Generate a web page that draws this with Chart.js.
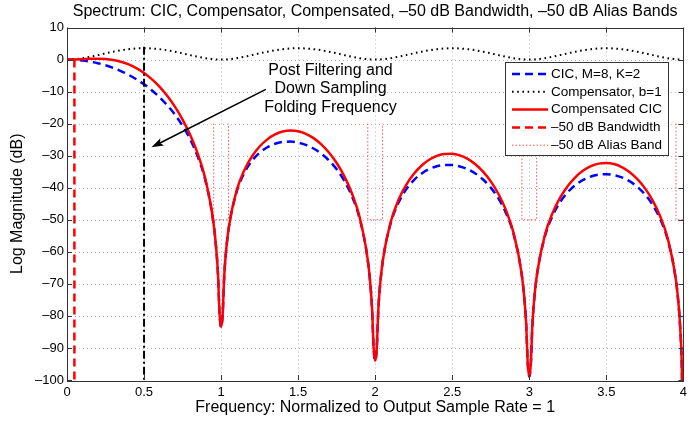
<!DOCTYPE html>
<html><head><meta charset="utf-8">
<script src="https://cdn.jsdelivr.net/npm/chart.js@4.4.1/dist/chart.umd.min.js"></script>
<style>html,body{margin:0;padding:0;background:#fff;overflow:hidden}canvas{display:block}</style>
</head><body>
<canvas id="c" width="692" height="424"></canvas>
<script>
// ---------- data ----------
const freq = [0,0.05,0.1,0.15,0.2,0.25,0.3,0.35,0.4,0.45,0.5,0.55,0.6,0.65,0.7,0.75,0.8,0.85,0.9,0.95,
  0.97,0.98,0.99,1,1.01,1.02,1.03,
  1.05,1.1,1.15,1.2,1.25,1.3,1.35,1.4,1.45,1.5,1.55,1.6,1.65,1.7,1.75,1.8,1.85,1.9,1.95,
  1.97,1.98,1.99,2,2.01,2.02,2.03,
  2.05,2.1,2.15,2.2,2.25,2.3,2.35,2.4,2.45,2.5,2.55,2.6,2.65,2.7,2.75,2.8,2.85,2.9,2.95,
  2.97,2.98,2.99,3,3.01,3.02,3.03,
  3.05,3.1,3.15,3.2,3.25,3.3,3.35,3.4,3.45,3.5,3.55,3.6,3.65,3.7,3.75,3.8,3.85,3.9,3.95,
  3.97,3.98,3.99,4];
const cicDb = [0,-0.07,-0.28,-0.64,-1.14,-1.80,-2.61,-3.60,-4.77,-6.14,-7.73,-9.58,-11.72,-14.22,-17.15,-20.66,-24.95,-30.46,-38.09,-50.82,
  -59.99,-67.18,-79.39,-83.5,-79.72,-67.84,-60.98,
  -52.47,-41.40,-35.44,-31.64,-29.08,-27.37,-26.28,-25.72,-25.61,-25.91,-26.63,-27.76,-29.36,-31.48,-34.24,-37.86,-42.74,-49.79,-61.98,
  -70.95,-78.05,-90.15,-94,-90.29,-78.32,-71.36,
  -62.66,-51.16,-44.79,-40.60,-37.67,-35.61,-34.19,-33.31,-32.90,-32.92,-33.36,-34.23,-35.56,-37.44,-39.96,-43.35,-48.01,-54.85,-66.83,
  -75.72,-82.77,-94.84,-99,-94.89,-82.89,-75.89,
  -67.11,-55.42,-48.86,-44.48,-41.38,-39.14,-37.56,-36.51,-35.93,-35.79,-36.07,-36.78,-37.96,-39.69,-42.06,-45.30,-49.81,-56.51,-68.35,
  -77.18,-84.21,-96.24,-130];
const compensatorDb = [0,0.11,0.41,0.85,1.38,1.94,2.46,2.90,3.24,3.45,3.52,3.45,3.24,2.90,2.46,1.94,1.38,0.85,0.41,0.11,
  0.04,0.02,0,0,0,0.02,0.04,
  0.11,0.41,0.85,1.38,1.94,2.46,2.90,3.24,3.45,3.52,3.45,3.24,2.90,2.46,1.94,1.38,0.85,0.41,0.11,
  0.04,0.02,0,0,0,0.02,0.04,
  0.11,0.41,0.85,1.38,1.94,2.46,2.90,3.24,3.45,3.52,3.45,3.24,2.90,2.46,1.94,1.38,0.85,0.41,0.11,
  0.04,0.02,0,0,0,0.02,0.04,
  0.11,0.41,0.85,1.38,1.94,2.46,2.90,3.24,3.45,3.52,3.45,3.24,2.90,2.46,1.94,1.38,0.85,0.41,0.11,
  0.04,0.02,0,0];
const compensatedDb = [0,0.04,0.12,0.21,0.24,0.14,-0.15,-0.70,-1.53,-2.69,-4.21,-6.13,-8.48,-11.32,-14.69,-18.72,-23.57,-29.61,-37.69,-50.71,
  -59.95,-67.17,-79.38,-83.5,-79.71,-67.83,-60.94,
  -52.36,-40.99,-34.59,-30.25,-27.14,-24.91,-23.38,-22.48,-22.16,-22.39,-23.18,-24.52,-26.45,-29.02,-32.30,-36.47,-41.88,-49.39,-61.88,
  -70.91,-78.03,-90.15,-94,-90.28,-78.30,-71.32,
  -62.56,-50.76,-43.93,-39.21,-35.73,-33.15,-31.29,-30.07,-29.45,-29.40,-29.91,-30.99,-32.66,-34.98,-38.02,-41.97,-47.15,-54.45,-66.72,
  -75.68,-82.76,-94.83,-99,-94.89,-82.87,-75.85,
  -67.01,-55.01,-48.00,-43.10,-39.44,-36.68,-34.65,-33.27,-32.48,-32.27,-32.62,-33.54,-35.06,-37.23,-40.12,-43.92,-48.96,-56.11,-68.24,
  -77.14,-84.19,-96.24,-130];
const bandwidthFreq = 0.048;
const bandwidthSpan = [0, -100];
const aliasCenters = [1, 2, 3, 4];
const aliasSpan = [-20, -50];
const foldFreq = 0.5;
const foldSpan = [4, -100];
const xTicks = [0, 0.5, 1, 1.5, 2, 2.5, 3, 3.5, 4];
const yTicks = [10, 0, -10, -20, -30, -40, -50, -60, -70, -80, -90, -100];
const legendLabels = ['CIC, M=8, K=2', 'Compensator, b=1', 'Compensated CIC', '\u201350 dB Bandwidth', '\u201350 dB Alias Band'];
const titleText = 'Spectrum: CIC, Compensator, Compensated, \u201350 dB Bandwidth, \u201350 dB Alias Bands';
const xLabel = 'Frequency: Normalized to Output Sample Rate = 1';
const yLabel = 'Log Magnitude (dB)';
const noteLines = ['Post Filtering and', 'Down Sampling', 'Folding Frequency'];
const noteTextAt = [1.71, -3.3];
const noteArrowFrom = [1.29, -9.3];
const noteArrowTo = [0.548, -27.4];

// ---------- chart ----------
const FONT = '"Liberation Sans", Arial, Helvetica, sans-serif';
const pts = (xs, ys) => xs.map((v, i) => ({x: v, y: ys[i]}));
const fmt = v => v < 0 ? '\u2013' + Math.abs(v) : String(v);

const styles = {
  cic: {borderColor: '#0000ff', borderWidth: 2.5, borderDash: [8, 5]},
  comp: {borderColor: '#000000', borderWidth: 2, borderDash: [1.6, 3.6]},
  compd: {borderColor: '#ff0000', borderWidth: 2.5, borderDash: []},
  bw: {borderColor: '#ff0000', borderWidth: 2.5, borderDash: [8, 5]},
  alias: {borderColor: 'rgba(255,0,0,0.7)', borderWidth: 1, borderDash: [1.5, 2]},
  fold: {borderColor: '#000000', borderWidth: 2, borderDash: [8, 3, 2, 3]}
};
const common = {showLine: true, pointRadius: 0, fill: false, borderCapStyle: 'butt'};

const datasets = [
  Object.assign({label: legendLabels[0], data: pts(freq, cicDb), order: 3, cubicInterpolationMode: 'monotone'}, common, styles.cic),
  Object.assign({label: legendLabels[1], data: pts(freq, compensatorDb), order: 4, cubicInterpolationMode: 'monotone'}, common, styles.comp),
  Object.assign({label: legendLabels[2], data: pts(freq, compensatedDb), order: 2, cubicInterpolationMode: 'monotone'}, common, styles.compd),
  Object.assign({label: legendLabels[3], data: pts([bandwidthFreq, bandwidthFreq], bandwidthSpan), order: 1}, common, styles.bw)
];
aliasCenters.forEach(c => {
  datasets.push(Object.assign({label: legendLabels[4],
    data: pts([c - bandwidthFreq, c - bandwidthFreq, c + bandwidthFreq, c + bandwidthFreq], [aliasSpan[0], aliasSpan[1], aliasSpan[1], aliasSpan[0]]),
    order: 1}, common, styles.alias));
});
datasets.push(Object.assign({label: 'fold', data: pts([foldFreq, foldFreq], foldSpan), order: 0}, common, styles.fold));

function line(ctx, x1, y1, x2, y2) { ctx.beginPath(); ctx.moveTo(x1, y1); ctx.lineTo(x2, y2); ctx.stroke(); }

const decor = {
  id: 'decor',
  beforeDatasetsDraw(chart) {
    const {ctx, chartArea: a, scales: {x, y}} = chart;
    ctx.save();
    ctx.strokeStyle = '#b8b8b8'; ctx.lineWidth = 1; ctx.setLineDash([1, 3]);
    ctx.beginPath();
    xTicks.forEach(v => { if (v > x.min && v < x.max) { const p = Math.round(x.getPixelForValue(v)) + 0.5; ctx.moveTo(p, a.top); ctx.lineTo(p, a.bottom); } });
    yTicks.forEach(v => { if (v > y.min && v < y.max) { const p = Math.round(y.getPixelForValue(v)) + 0.5; ctx.moveTo(a.left, p); ctx.lineTo(a.right, p); } });
    ctx.stroke();
    ctx.restore();
  },
  afterDatasetsDraw(chart) {
    const {ctx, chartArea: a, scales: {x, y}} = chart;
    ctx.save();
    ctx.setLineDash([]);
    ctx.strokeStyle = '#333'; ctx.lineWidth = 1;
    ctx.strokeRect(Math.round(a.left) + 0.5, Math.round(a.top) + 0.5, Math.round(a.right - a.left), Math.round(a.bottom - a.top));
    const tl = 5;
    xTicks.forEach(v => { const p = Math.round(x.getPixelForValue(v)) + 0.5; line(ctx, p, a.bottom, p, a.bottom - tl); line(ctx, p, a.top, p, a.top + tl); });
    yTicks.forEach(v => { const p = Math.round(y.getPixelForValue(v)) + 0.5; line(ctx, a.left, p, a.left + tl, p); line(ctx, a.right, p, a.right - tl, p); });

    // annotation
    ctx.fillStyle = '#000';
    ctx.font = '16px ' + FONT; ctx.textAlign = 'center'; ctx.textBaseline = 'middle';
    const tx = x.getPixelForValue(noteTextAt[0]), ty = y.getPixelForValue(noteTextAt[1]);
    noteLines.forEach((t, i) => ctx.fillText(t, tx, ty + i * 18.7));
    const ax1 = x.getPixelForValue(noteArrowFrom[0]), ay1 = y.getPixelForValue(noteArrowFrom[1]);
    const ax2 = x.getPixelForValue(noteArrowTo[0]), ay2 = y.getPixelForValue(noteArrowTo[1]);
    const ang = Math.atan2(ay2 - ay1, ax2 - ax1), hl = 12, hw = 4;
    ctx.strokeStyle = '#000'; ctx.lineWidth = 1.5;
    line(ctx, ax1, ay1, ax2 - Math.cos(ang) * hl * 0.8, ay2 - Math.sin(ang) * hl * 0.8);
    ctx.beginPath();
    ctx.moveTo(ax2, ay2);
    ctx.lineTo(ax2 - Math.cos(ang) * hl - Math.sin(ang) * hw, ay2 - Math.sin(ang) * hl + Math.cos(ang) * hw);
    ctx.lineTo(ax2 - Math.cos(ang) * hl * 0.8, ay2 - Math.sin(ang) * hl * 0.8);
    ctx.lineTo(ax2 - Math.cos(ang) * hl + Math.sin(ang) * hw, ay2 - Math.sin(ang) * hl - Math.cos(ang) * hw);
    ctx.closePath(); ctx.fill();

    // legend
    const lx = 505, ly = 62, lw = 163, lh = 93;
    ctx.fillStyle = '#fff'; ctx.fillRect(lx, ly, lw, lh);
    ctx.strokeStyle = '#333'; ctx.lineWidth = 1; ctx.strokeRect(lx + 0.5, ly + 0.5, lw, lh);
    const entryStyles = [styles.cic, styles.comp, styles.compd, styles.bw, styles.alias];
    ctx.font = '13.5px ' + FONT; ctx.textAlign = 'left'; ctx.textBaseline = 'middle';
    entryStyles.forEach((s, i) => {
      const yy = ly + 12 + i * 17.8;
      ctx.strokeStyle = s.borderColor; ctx.lineWidth = s.borderWidth; ctx.setLineDash(s.borderDash);
      line(ctx, lx + 7, yy, lx + 43, yy);
      ctx.setLineDash([]);
      ctx.fillStyle = '#000';
      ctx.fillText(legendLabels[i], lx + 46, yy);
    });
    ctx.restore();
  },
  afterDraw(chart) {
    const {ctx, chartArea: a} = chart;
    ctx.save();
    ctx.fillStyle = '#000'; ctx.textAlign = 'center'; ctx.textBaseline = 'middle';
    const cx = (a.left + a.right) / 2;
    ctx.font = '16px ' + FONT;
    ctx.fillText(titleText, cx, 12);
    ctx.fillText(xLabel, cx, 408);
    ctx.translate(18, (a.top + a.bottom) / 2); ctx.rotate(-Math.PI / 2);
    ctx.fillText(yLabel, 0, 0);
    ctx.restore();
  }
};

new Chart(document.getElementById('c'), {
  type: 'scatter',
  data: {datasets},
  options: {
    responsive: false, animation: false, devicePixelRatio: 1, events: [],
    layout: {padding: {left: 0, right: 4.5, top: 27.5, bottom: 0}},
    plugins: {legend: {display: false}, tooltip: {enabled: false}, title: {display: false}},
    scales: {
      x: {type: 'linear', min: 0, max: 4,
        afterFit: s => { s.height = 44; },
        afterBuildTicks: s => { s.ticks = xTicks.map(v => ({value: v})); },
        grid: {display: false, drawTicks: false}, border: {display: false},
        ticks: {padding: 5, color: '#000', font: {family: FONT, size: 13}, maxRotation: 0, autoSkip: false, callback: v => fmt(Math.round(v * 10) / 10)}},
      y: {type: 'linear', min: -100, max: 10,
        afterFit: s => { s.width = 67; },
        afterBuildTicks: s => { s.ticks = yTicks.map(v => ({value: v})); },
        grid: {display: false, drawTicks: false}, border: {display: false},
        ticks: {padding: 3, color: '#000', font: {family: FONT, size: 13}, autoSkip: false, callback: v => fmt(v)}}
    }
  },
  plugins: [decor]
});
</script>
</body></html>
